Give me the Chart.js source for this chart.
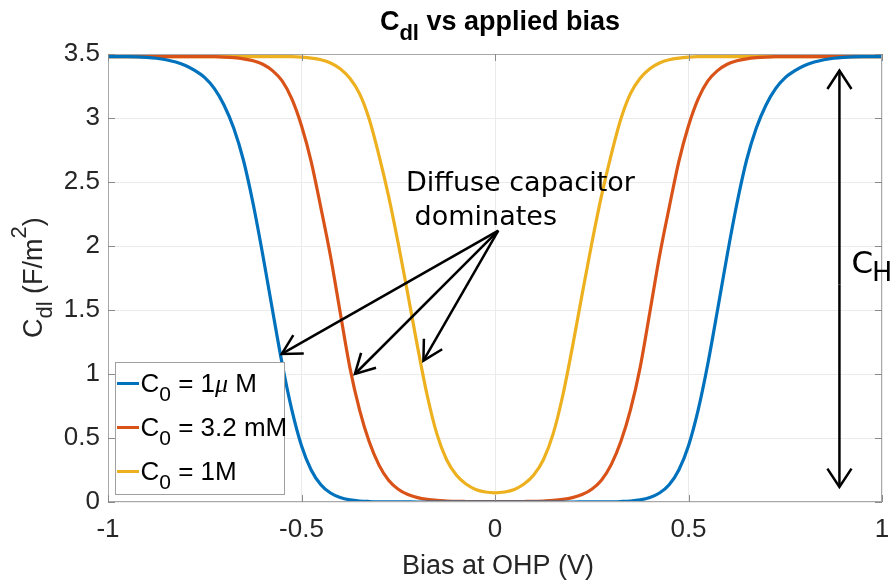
<!DOCTYPE html>
<html><head><meta charset="utf-8">
<script src="https://cdn.jsdelivr.net/npm/chart.js@4/dist/chart.umd.min.js"></script>
<style>html,body{margin:0;padding:0;background:#fff;}#wrap{width:892px;height:581px;}</style>
</head><body><div id="wrap"><canvas id="c" width="892" height="581"></canvas></div>
<script>
// Bias at OHP (V)
const bias = [-1,-0.975,-0.95,-0.925,-0.9,-0.875,-0.85,-0.825,-0.8,-0.775,-0.75,-0.725,-0.7,-0.675,-0.65,-0.625,-0.6,-0.575,-0.55,-0.525,-0.5,-0.475,-0.45,-0.425,-0.4,-0.375,-0.35,-0.325,-0.3,-0.275,-0.25,-0.225,-0.2,-0.175,-0.15,-0.125,-0.1,-0.075,-0.05,-0.025,0,0.025,0.05,0.075,0.1,0.125,0.15,0.175,0.2,0.225,0.25,0.275,0.3,0.325,0.35,0.375,0.4,0.425,0.45,0.475,0.5,0.525,0.55,0.575,0.6,0.625,0.65,0.675,0.7,0.725,0.75,0.775,0.8,0.825,0.85,0.875,0.9,0.925,0.95,0.975,1];
// Cdl (F/m^2), C0 = 1 uM
const cdl_1uM = [3.48,3.48,3.48,3.478,3.474,3.467,3.455,3.437,3.41,3.37,3.315,3.23,3.10,2.92,2.67,2.33,1.93,1.50,1.08,0.72,0.44,0.25,0.135,0.07,0.035,0.017,0.008,0.004,0.002,0.001,0.001,0.0005,0,0,0,0,0,0,0,0,0,
 0,0,0,0,0,0,0,0,0.0005,0.001,0.001,0.002,0.004,0.008,0.017,0.035,0.07,0.135,0.25,0.44,0.72,1.08,1.50,1.93,2.33,2.67,2.92,3.10,3.23,3.315,3.37,3.41,3.437,3.455,3.467,3.474,3.478,3.48,3.48,3.48];
// C0 = 3.2 mM
const cdl_3p2mM = [3.48,3.48,3.48,3.48,3.48,3.48,3.48,3.48,3.48,3.48,3.48,3.479,3.476,3.471,3.462,3.447,3.42,3.37,3.29,3.15,2.94,2.66,2.30,1.92,1.48,1.05,0.72,0.47,0.29,0.17,0.10,0.058,0.034,0.020,0.012,0.008,0.005,0.004,0.0035,0.003,0.003,
 0.003,0.0035,0.004,0.005,0.008,0.012,0.020,0.034,0.058,0.10,0.17,0.29,0.47,0.72,1.05,1.48,1.92,2.30,2.66,2.94,3.15,3.29,3.37,3.42,3.447,3.462,3.471,3.476,3.479,3.48,3.48,3.48,3.48,3.48,3.48,3.48,3.48,3.48,3.48,3.48];
// C0 = 1 M
const cdl_1M = [3.48,3.48,3.48,3.48,3.48,3.48,3.48,3.48,3.48,3.48,3.48,3.48,3.48,3.48,3.48,3.48,3.48,3.48,3.48,3.479,3.475,3.468,3.455,3.43,3.385,3.31,3.19,2.99,2.71,2.39,2.02,1.62,1.21,0.83,0.53,0.33,0.21,0.14,0.098,0.078,0.072,
 0.078,0.098,0.14,0.21,0.33,0.53,0.83,1.21,1.62,2.02,2.39,2.71,2.99,3.19,3.31,3.385,3.43,3.455,3.468,3.475,3.479,3.48,3.48,3.48,3.48,3.48,3.48,3.48,3.48,3.48,3.48,3.48,3.48,3.48,3.48,3.48,3.48,3.48,3.48,3.48];

const seriesColors = ['#0072BD', '#D95319', '#EDB120'];
const legendLabels = [
  [{t:'C'},{t:'0',sub:true},{t:' = 1'},{t:'\u03bc',it:true,fam:'"Liberation Serif", serif'},{t:' M'}],
  [{t:'C'},{t:'0',sub:true},{t:' = 3.2 mM'}],
  [{t:'C'},{t:'0',sub:true},{t:' = 1M'}]
];
const xTickLabels = ['-1','-0.5','0','0.5','1'];
const yTickLabels = ['0','0.5','1','1.5','2','2.5','3','3.5'];
const titleParts = [{t:'C',bold:true},{t:'dl',bold:true,sub:true},{t:' vs applied bias',bold:true}];
const yTitleParts = [{t:'C'},{t:'dl',sub:true},{t:' (F/m'},{t:'2',sup:true},{t:')'}];
const xTitle = 'Bias at OHP (V)';
const noteLines = ['Diffuse capacitor', ' dominates'];

const F = '"Liberation Sans", Arial, Helvetica, sans-serif';
const DJ = '"DejaVu Sans", Verdana, sans-serif';
const TXT = '#262626';

function richWidth(ctx, parts, size) {
  let w = 0;
  for (const p of parts) {
    const fs = (p.sub || p.sup) ? Math.round(size * 0.8) : size;
    ctx.font = (p.it ? 'italic ' : '') + (p.bold ? 'bold ' : '') + fs + 'px ' + (p.fam || F);
    w += ctx.measureText(p.t).width;
  }
  return w;
}
function drawRich(ctx, x, y, parts, size) {
  let cx = x;
  for (const p of parts) {
    const fs = (p.sub || p.sup) ? Math.round(size * 0.8) : size;
    ctx.font = (p.it ? 'italic ' : '') + (p.bold ? 'bold ' : '') + fs + 'px ' + (p.fam || F);
    const dy = p.sub ? size * 0.36 : (p.sup ? -size * 0.6 : 0);
    ctx.fillText(p.t, cx, y + dy);
    cx += ctx.measureText(p.t).width;
  }
}
function arrow(ctx, x1, y1, x2, y2, L, ang) {
  ctx.beginPath(); ctx.moveTo(x1, y1); ctx.lineTo(x2, y2); ctx.stroke();
  const a = Math.atan2(y2 - y1, x2 - x1);
  ctx.beginPath();
  ctx.moveTo(x2 - L * Math.cos(a - ang), y2 - L * Math.sin(a - ang));
  ctx.lineTo(x2, y2);
  ctx.lineTo(x2 - L * Math.cos(a + ang), y2 - L * Math.sin(a + ang));
  ctx.stroke();
}

const decor = {
  id: 'decor',
  afterDraw(chart) {
    const {ctx, chartArea: a, scales: {x, y}} = chart;
    ctx.save();
    ctx.strokeStyle = '#a8a8a8'; ctx.lineWidth = 1;
    ctx.strokeRect(a.left + 0.5, a.top + 0.5, a.right - a.left - 1, a.bottom - a.top - 1);
    ctx.strokeStyle = '#8a8a8a';
    ctx.beginPath();
    x.ticks.forEach(t => { const px = Math.round(x.getPixelForValue(t.value)) + 0.5;
      ctx.moveTo(px, a.bottom); ctx.lineTo(px, a.bottom - 7); ctx.moveTo(px, a.top); ctx.lineTo(px, a.top + 7); });
    y.ticks.forEach(t => { const py = Math.round(y.getPixelForValue(t.value)) + 0.5;
      ctx.moveTo(a.left, py); ctx.lineTo(a.left + 7, py); ctx.moveTo(a.right, py); ctx.lineTo(a.right - 7, py); });
    ctx.stroke();

    // title
    ctx.fillStyle = '#000'; ctx.textBaseline = 'alphabetic'; ctx.textAlign = 'left';
    const tw = richWidth(ctx, titleParts, 27);
    drawRich(ctx, 500 - tw / 2, 30, titleParts, 27);

    // x title
    ctx.fillStyle = TXT; ctx.font = '27px ' + F; ctx.textAlign = 'center';
    ctx.fillText(xTitle, 498, 574);
    ctx.textAlign = 'left';

    // y title
    ctx.save();
    ctx.translate(42, 338); ctx.rotate(-Math.PI / 2);
    drawRich(ctx, 0, 0, yTitleParts, 27);
    ctx.restore();

    // annotations
    ctx.strokeStyle = '#000'; ctx.fillStyle = '#000'; ctx.lineWidth = 2.5; ctx.lineJoin = 'miter';
    const ox = x.getPixelForValue(0.0085), oy = y.getPixelForValue(2.12);
    [[-0.551, 1.157], [-0.362, 1.0], [-0.185, 1.104]].forEach(([vx, vy]) =>
      arrow(ctx, ox, oy, x.getPixelForValue(vx), y.getPixelForValue(vy), 22, 0.5));
    const hx = x.getPixelForValue(0.89);
    arrow(ctx, hx, y.getPixelForValue(1.7), hx, y.getPixelForValue(3.37), 22, 0.58);
    arrow(ctx, hx, y.getPixelForValue(1.7), hx, y.getPixelForValue(0.117), 22, 0.58);

    ctx.font = '27px ' + DJ;
    ctx.fillText(noteLines[0], x.getPixelForValue(-0.23), y.getPixelForValue(2.43));
    ctx.fillText(noteLines[1], x.getPixelForValue(-0.23), y.getPixelForValue(2.165));
    ctx.font = '31px ' + DJ;
    const cxp = x.getPixelForValue(0.921), cyp = y.getPixelForValue(1.79);
    ctx.fillText('C', cxp, cyp);
    const cw = ctx.measureText('C').width;
    ctx.font = '27px ' + DJ;
    ctx.fillText('H', cxp + cw - 1, cyp + 8);

    // legend
    ctx.fillStyle = '#fff'; ctx.strokeStyle = '#a0a0a0'; ctx.lineWidth = 1;
    ctx.fillRect(115.5, 362.5, 169, 132);
    ctx.strokeRect(115.5, 362.5, 169, 132);
    const ly = [383.5, 427.5, 471.5];
    chart.data.datasets.forEach((ds, i) => {
      ctx.strokeStyle = ds.borderColor; ctx.lineWidth = 3;
      ctx.beginPath(); ctx.moveTo(117, ly[i]); ctx.lineTo(139, ly[i]); ctx.stroke();
      ctx.fillStyle = '#000';
      drawRich(ctx, 140.5, ly[i] + 8.3, legendLabels[i], 26);
    });
    ctx.restore();
  }
};

const mk = (arr, i) => ({
  data: bias.map((v, k) => ({x: v, y: arr[k]})),
  borderColor: seriesColors[i], borderWidth: 3.2, pointRadius: 0,
  cubicInterpolationMode: 'monotone', fill: false
});

new Chart(document.getElementById('c').getContext('2d'), {
  type: 'line',
  data: {datasets: [mk(cdl_1uM, 0), mk(cdl_3p2mM, 1), mk(cdl_1M, 2)]},
  options: {
    responsive: false, animation: false, devicePixelRatio: 1,
    layout: {padding: {top: 54, right: 10, left: 0, bottom: 0}},
    plugins: {legend: {display: false}, title: {display: false}, tooltip: {enabled: false}},
    scales: {
      x: {
        type: 'linear', min: -1, max: 1,
        ticks: {stepSize: 0.5, callback: (v, i) => xTickLabels[i], font: {family: F, size: 26}, color: TXT, padding: 12, maxRotation: 0, autoSkip: false},
        grid: {color: '#ebebeb', drawTicks: false, tickLength: 0},
        border: {display: false},
        afterFit: s => { s.height = 79; s.paddingRight = 0; s.paddingLeft = 0; }
      },
      y: {
        type: 'linear', min: 0, max: 3.5,
        ticks: {stepSize: 0.5, callback: (v, i) => yTickLabels[i], font: {family: F, size: 26}, color: TXT, padding: 8, autoSkip: false},
        grid: {color: '#ebebeb', drawTicks: false, tickLength: 0},
        border: {display: false},
        afterFit: s => { s.width = 108; s.paddingTop = 0; s.paddingBottom = 0; }
      }
    }
  },
  plugins: [decor]
});
</script>
</body></html>
